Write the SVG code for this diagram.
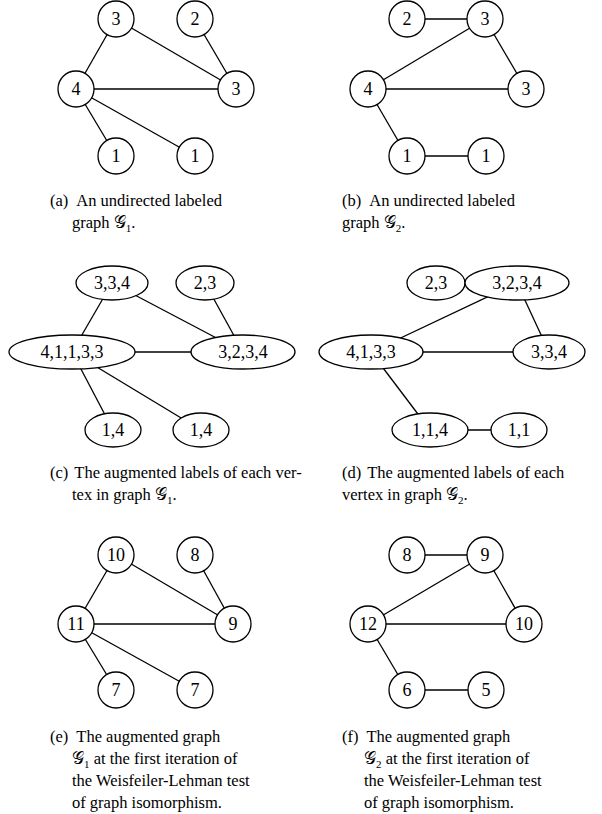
<svg xmlns="http://www.w3.org/2000/svg" width="602" height="814" viewBox="0 0 602 814">
<style>
.n{fill:#fff;stroke:#000;stroke-width:1.3}
.e line{stroke:#000;stroke-width:1.3}
text{font-family:"Liberation Serif","DejaVu Serif",serif;font-size:18px;fill:#000}
.l{text-anchor:middle;dominant-baseline:central}
.c text{font-size:16.5px}
</style>
<rect width="602" height="814" fill="#fff"/>
<g class="e" id="connectors">
<line x1="116" y1="19" x2="76" y2="89"/><line x1="116" y1="19" x2="236" y2="89"/><line x1="195" y1="19" x2="236" y2="89"/><line x1="76" y1="89" x2="236" y2="89"/><line x1="76" y1="89" x2="116" y2="156"/><line x1="76" y1="89" x2="195" y2="156"/>
<line x1="407" y1="19" x2="485" y2="19"/><line x1="485" y1="19" x2="368" y2="89"/><line x1="485" y1="19" x2="526" y2="89"/><line x1="368" y1="89" x2="526" y2="89"/><line x1="368" y1="89" x2="407" y2="156"/><line x1="407" y1="156" x2="486" y2="156"/>
<line x1="112" y1="283" x2="72" y2="352"/><line x1="112" y1="283" x2="243" y2="352"/><line x1="205" y1="283" x2="243" y2="352"/><line x1="72" y1="352" x2="243" y2="352"/><line x1="72" y1="352" x2="113" y2="430"/><line x1="72" y1="352" x2="201" y2="430"/>
<line x1="436" y1="283" x2="517" y2="283"/><line x1="517" y1="283" x2="371" y2="352"/><line x1="517" y1="283" x2="549" y2="352"/><line x1="371" y1="352" x2="549" y2="352"/><line x1="371" y1="352" x2="430" y2="430"/><line x1="430" y1="430" x2="519" y2="430"/>
<line x1="116" y1="555" x2="76" y2="624"/><line x1="116" y1="555" x2="233" y2="624"/><line x1="195" y1="555" x2="233" y2="624"/><line x1="76" y1="624" x2="233" y2="624"/><line x1="76" y1="624" x2="116" y2="690"/><line x1="76" y1="624" x2="195" y2="690"/>
<line x1="407" y1="555" x2="485" y2="555"/><line x1="485" y1="555" x2="368" y2="624"/><line x1="485" y1="555" x2="524" y2="624"/><line x1="368" y1="624" x2="524" y2="624"/><line x1="368" y1="624" x2="407" y2="690"/><line x1="407" y1="690" x2="486" y2="690"/>
</g>
<g id="a1"><circle class="n" cx="116" cy="19" r="18"/><text class="l" x="116" y="19">3</text></g>
<g id="a2"><circle class="n" cx="195" cy="19" r="18"/><text class="l" x="195" y="19">2</text></g>
<g id="a3"><circle class="n" cx="76" cy="89" r="18"/><text class="l" x="76" y="89">4</text></g>
<g id="a4"><circle class="n" cx="236" cy="89" r="18"/><text class="l" x="236" y="89">3</text></g>
<g id="a5"><circle class="n" cx="116" cy="156" r="18"/><text class="l" x="116" y="156">1</text></g>
<g id="a6"><circle class="n" cx="195" cy="156" r="18"/><text class="l" x="195" y="156">1</text></g>
<g id="b1"><circle class="n" cx="407" cy="19" r="18"/><text class="l" x="407" y="19">2</text></g>
<g id="b2"><circle class="n" cx="485" cy="19" r="18"/><text class="l" x="485" y="19">3</text></g>
<g id="b3"><circle class="n" cx="368" cy="89" r="18"/><text class="l" x="368" y="89">4</text></g>
<g id="b4"><circle class="n" cx="526" cy="89" r="18"/><text class="l" x="526" y="89">3</text></g>
<g id="b5"><circle class="n" cx="407" cy="156" r="18"/><text class="l" x="407" y="156">1</text></g>
<g id="b6"><circle class="n" cx="486" cy="156" r="18"/><text class="l" x="486" y="156">1</text></g>
<g id="c1"><ellipse class="n" cx="112" cy="283" rx="36" ry="17"/><text class="l" x="112" y="283">3,3,4</text></g>
<g id="c2"><ellipse class="n" cx="205" cy="283" rx="29" ry="17"/><text class="l" x="205" y="283">2,3</text></g>
<g id="c3"><ellipse class="n" cx="72" cy="352" rx="63" ry="17"/><text class="l" x="72" y="352">4,1,1,3,3</text></g>
<g id="c4"><ellipse class="n" cx="243" cy="352" rx="52" ry="17"/><text class="l" x="243" y="352">3,2,3,4</text></g>
<g id="c5"><ellipse class="n" cx="113" cy="430" rx="28" ry="17"/><text class="l" x="113" y="430">1,4</text></g>
<g id="c6"><ellipse class="n" cx="201" cy="430" rx="28" ry="17"/><text class="l" x="201" y="430">1,4</text></g>
<g id="d1"><ellipse class="n" cx="436" cy="283" rx="29" ry="17"/><text class="l" x="436" y="283">2,3</text></g>
<g id="d2"><ellipse class="n" cx="517" cy="283" rx="52" ry="17"/><text class="l" x="517" y="283">3,2,3,4</text></g>
<g id="d3"><ellipse class="n" cx="371" cy="352" rx="52" ry="17"/><text class="l" x="371" y="352">4,1,3,3</text></g>
<g id="d4"><ellipse class="n" cx="549" cy="352" rx="36" ry="17"/><text class="l" x="549" y="352">3,3,4</text></g>
<g id="d5"><ellipse class="n" cx="430" cy="430" rx="38" ry="17"/><text class="l" x="430" y="430">1,1,4</text></g>
<g id="d6"><ellipse class="n" cx="519" cy="430" rx="28" ry="17"/><text class="l" x="519" y="430">1,1</text></g>
<g id="e1"><circle class="n" cx="116" cy="555" r="18"/><text class="l" x="116" y="555">10</text></g>
<g id="e2"><circle class="n" cx="195" cy="555" r="18"/><text class="l" x="195" y="555">8</text></g>
<g id="e3"><circle class="n" cx="76" cy="624" r="18"/><text class="l" x="76" y="624">11</text></g>
<g id="e4"><circle class="n" cx="233" cy="624" r="18"/><text class="l" x="233" y="624">9</text></g>
<g id="e5"><circle class="n" cx="116" cy="690" r="18"/><text class="l" x="116" y="690">7</text></g>
<g id="e6"><circle class="n" cx="195" cy="690" r="18"/><text class="l" x="195" y="690">7</text></g>
<g id="f1"><circle class="n" cx="407" cy="555" r="18"/><text class="l" x="407" y="555">8</text></g>
<g id="f2"><circle class="n" cx="485" cy="555" r="18"/><text class="l" x="485" y="555">9</text></g>
<g id="f3"><circle class="n" cx="368" cy="624" r="18"/><text class="l" x="368" y="624">12</text></g>
<g id="f4"><circle class="n" cx="524" cy="624" r="18"/><text class="l" x="524" y="624">10</text></g>
<g id="f5"><circle class="n" cx="407" cy="690" r="18"/><text class="l" x="407" y="690">6</text></g>
<g id="f6"><circle class="n" cx="486" cy="690" r="18"/><text class="l" x="486" y="690">5</text></g>
<g id="captions" class="c">
<text x="50" y="206">(a)<tspan dx="8">An undirected labeled</tspan></text>
<text x="72" y="228">graph 𝒢<tspan font-size="11" dy="4">1</tspan><tspan dy="-4">.</tspan></text>
<text x="342" y="206">(b)<tspan dx="8">An undirected labeled</tspan></text>
<text x="342" y="228">graph 𝒢<tspan font-size="11" dy="4">2</tspan><tspan dy="-4">.</tspan></text>
<text x="50" y="478">(c)<tspan dx="6">The augmented labels of each ver-</tspan></text>
<text x="72" y="500">tex in graph 𝒢<tspan font-size="11" dy="4">1</tspan><tspan dy="-4">.</tspan></text>
<text x="342" y="478">(d)<tspan dx="6">The augmented labels of each</tspan></text>
<text x="342" y="500">vertex in graph 𝒢<tspan font-size="11" dy="4">2</tspan><tspan dy="-4">.</tspan></text>
<text x="50" y="742">(e)<tspan dx="8">The augmented graph</tspan></text>
<text x="72" y="764">𝒢<tspan font-size="11" dy="4">1</tspan><tspan dy="-4"> at the first iteration of</tspan></text>
<text x="72" y="786">the Weisfeiler-Lehman test</text>
<text x="72" y="808">of graph isomorphism.</text>
<text x="342" y="742">(f)<tspan dx="8">The augmented graph</tspan></text>
<text x="364" y="764">𝒢<tspan font-size="11" dy="4">2</tspan><tspan dy="-4"> at the first iteration of</tspan></text>
<text x="364" y="786">the Weisfeiler-Lehman test</text>
<text x="364" y="808">of graph isomorphism.</text>
</g>
</svg>
